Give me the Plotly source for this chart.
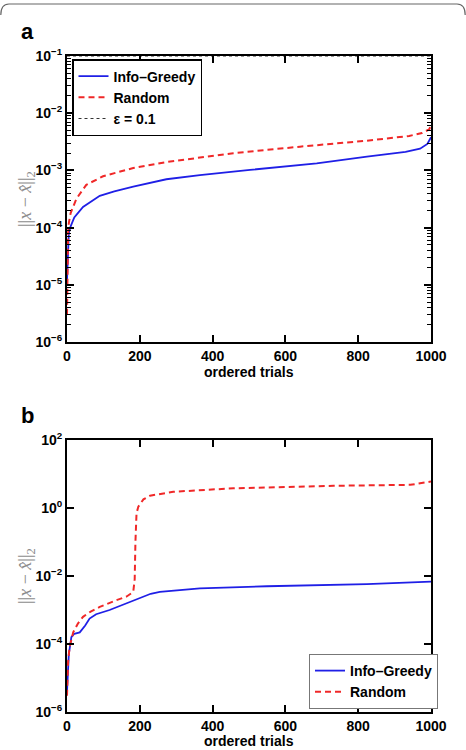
import plotly.graph_objects as go

# ---------------- data ----------------
# Panel a
a_greedy_x = [0, 2, 5, 10, 20, 44, 70, 90, 130, 182, 273, 365, 503, 686, 824, 930, 970, 990, 1000]
a_greedy_y = [1.2e-5, 3e-5, 8e-5, 1.05e-4, 1.5e-4, 2.3e-4, 3.0e-4, 3.6e-4, 4.3e-4, 5.2e-4, 7.0e-4,
              8.3e-4, 1.02e-3, 1.33e-3, 1.74e-3, 2.1e-3, 2.4e-3, 2.9e-3, 3.8e-3]
a_random_x = [0, 1, 3, 5, 10, 26, 53, 99, 182, 273, 457, 640, 824, 940, 975, 995, 1000]
a_random_y = [3e-6, 2e-5, 8e-5, 1.2e-4, 1.8e-4, 3.2e-4, 5.6e-4, 7.9e-4, 1.1e-3, 1.4e-3, 2.0e-3,
              2.6e-3, 3.3e-3, 4.0e-3, 4.5e-3, 5.2e-3, 6.2e-3]
eps_x = [0, 1000]
eps_y = [0.1, 0.1]

# Panel b
b_greedy_x = [0, 2, 5, 12, 20, 35, 50, 62, 80, 117, 160, 200, 230, 255, 300, 365, 549, 824, 1000]
b_greedy_y = [4e-6, 2e-5, 5e-5, 1.6e-4, 2.0e-4, 2.2e-4, 3.5e-4, 5.6e-4, 7.5e-4, 1.0e-3, 1.5e-3,
              2.2e-3, 3.0e-3, 3.4e-3, 3.8e-3, 4.3e-3, 5.0e-3, 5.75e-3, 6.8e-3]
b_random_x = [0, 1, 3, 7, 17, 30, 44, 65, 90, 136, 164, 182, 186, 188, 191, 196, 210, 228, 292,
              457, 732, 943, 975, 1000]
b_random_y = [3e-6, 8.5e-6, 3e-5, 8e-5, 2.2e-4, 4e-4, 6.3e-4, 9e-4, 1.23e-3, 1.95e-3, 2.5e-3,
              3.4e-3, 8e-3, 0.1, 0.7, 1.1, 1.8, 2.3, 3.0, 3.8, 4.5, 4.8, 5.5, 6.0]

x_ticks = [0, 200, 400, 600, 800, 1000]
a_yexp = [-6, -5, -4, -3, -2, -1]
b_yexp = [-6, -4, -2, 0, 2]

# ---------------- figure ----------------
W, H = 466, 750
L, R, T, B = 67, 35, 56, 38
PW, PH = W - L - R, H - T - B

def px(x):
    return (x - L) / PW

def py(y):
    return (H - B - y) / PH

BLUE = "#1f1fe6"
RED = "#f02828"
FONT = "Liberation Sans"
DASH = "6px,4px"

fig = go.Figure()
fig.add_trace(go.Scatter(x=a_greedy_x, y=a_greedy_y, mode="lines", name="Info\u2013Greedy",
                         line=dict(color=BLUE, width=1.8), xaxis="x", yaxis="y", legend="legend"))
fig.add_trace(go.Scatter(x=a_random_x, y=a_random_y, mode="lines", name="Random",
                         line=dict(color=RED, width=2, dash=DASH), xaxis="x", yaxis="y", legend="legend"))
fig.add_trace(go.Scatter(x=eps_x, y=eps_y, mode="lines", name="\u03b5 = 0.1",
                         line=dict(color="#333333", width=1, dash="dot"), xaxis="x", yaxis="y",
                         legend="legend"))
fig.add_trace(go.Scatter(x=b_greedy_x, y=b_greedy_y, mode="lines", name="Info\u2013Greedy",
                         line=dict(color=BLUE, width=1.8), xaxis="x2", yaxis="y2", legend="legend2"))
fig.add_trace(go.Scatter(x=b_random_x, y=b_random_y, mode="lines", name="Random",
                         line=dict(color=RED, width=2, dash=DASH), xaxis="x2", yaxis="y2", legend="legend2"))

tickfont = dict(family=FONT, size=14, color="black", weight="bold")

def xaxis(anchor):
    return dict(range=[0, 1000], tickvals=x_ticks, ticktext=[str(v) for v in x_ticks],
                ticks="inside", ticklen=7, tickwidth=1.5, tickcolor="black",
                showline=True, linecolor="black", linewidth=2, mirror="ticks",
                showgrid=False, zeroline=False, tickfont=tickfont, anchor=anchor, layer="above traces")

def ylog(exps, domain, anchor, minor):
    d = dict(type="log", range=[exps[0], exps[-1]], domain=domain,
             tickvals=[10.0 ** e for e in exps],
             ticktext=["10<sup>\u2212%d</sup>" % -e if e < 0 else "10<sup>%d</sup>" % e for e in exps],
             ticks="inside", ticklen=7, tickwidth=1.5, tickcolor="black",
             showline=True, linecolor="black", linewidth=2, mirror="ticks",
             showgrid=False, zeroline=False, tickfont=tickfont, anchor=anchor, layer="above traces")
    if minor:
        mv = [k * 10.0 ** e for e in range(exps[0], exps[-1]) for k in range(2, 10)]
        d["minor"] = dict(tickvals=mv, ticks="inside", ticklen=4, tickwidth=1, tickcolor="black",
                          showgrid=False)
    return d

ya_dom = [py(342), 1.0]
yb_dom = [0.0, py(440)]

fig.update_layout(
    width=W, height=H,
    margin=dict(l=L, r=R, t=T, b=B),
    paper_bgcolor="white", plot_bgcolor="white",
    showlegend=True,
    xaxis=xaxis("y"),
    yaxis=ylog(a_yexp, ya_dom, "x", True),
    xaxis2=xaxis("y2"),
    yaxis2=ylog(b_yexp, yb_dom, "x2", False),
    legend=dict(x=px(72), y=py(59), xanchor="left", yanchor="top",
                bgcolor="white", bordercolor="black", borderwidth=1.5,
                font=dict(family=FONT, size=14, color="black", weight="bold"),
                itemwidth=30, tracegroupgap=0),
    legend2=dict(x=px(309), y=py(709), xanchor="left", yanchor="bottom",
                 bgcolor="white", bordercolor="#777777", borderwidth=1,
                 font=dict(family=FONT, size=14, color="black", weight="bold"),
                 itemwidth=30, tracegroupgap=0),
)
fig.update_xaxes(domain=[0, 1])

ann = []
ytitle = "||<i>x</i> \u2212 <i>x\u0302</i>||<sub>2</sub>"
for yc in [(56 + 342) / 2, (440 + 712) / 2]:
    ann.append(dict(x=px(26), y=py(yc), xref="paper", yref="paper", text=ytitle, showarrow=False,
                    textangle=-90, font=dict(family="Liberation Serif", size=18, color="#8a8a8a"),
                    xanchor="center", yanchor="middle"))
for yc in [372, 741]:
    ann.append(dict(x=0.5, y=py(yc), xref="paper", yref="paper", text="ordered trials", showarrow=False,
                    font=dict(family=FONT, size=14, color="black", weight="bold"),
                    xanchor="center", yanchor="middle"))
for lab, yc in [("a", 31), ("b", 415)]:
    ann.append(dict(x=px(19), y=py(yc), xref="paper", yref="paper", text=lab, showarrow=False,
                    font=dict(family=FONT, size=22, color="black", weight="bold"),
                    xanchor="left", yanchor="middle"))
fig.update_layout(annotations=ann)

# outer rounded frame (top part)
path = "M {} {} Q {} {} {} {} L {} {} Q {} {} {} {}".format(
    px(0.8), py(15), px(0.8), py(4), px(9), py(4), px(457), py(4), px(465.2), py(4), px(465.2), py(15))
fig.add_shape(type="path", path=path, xref="paper", yref="paper",
              line=dict(color="#666666", width=1.2))

fig.write_html("out.html")
